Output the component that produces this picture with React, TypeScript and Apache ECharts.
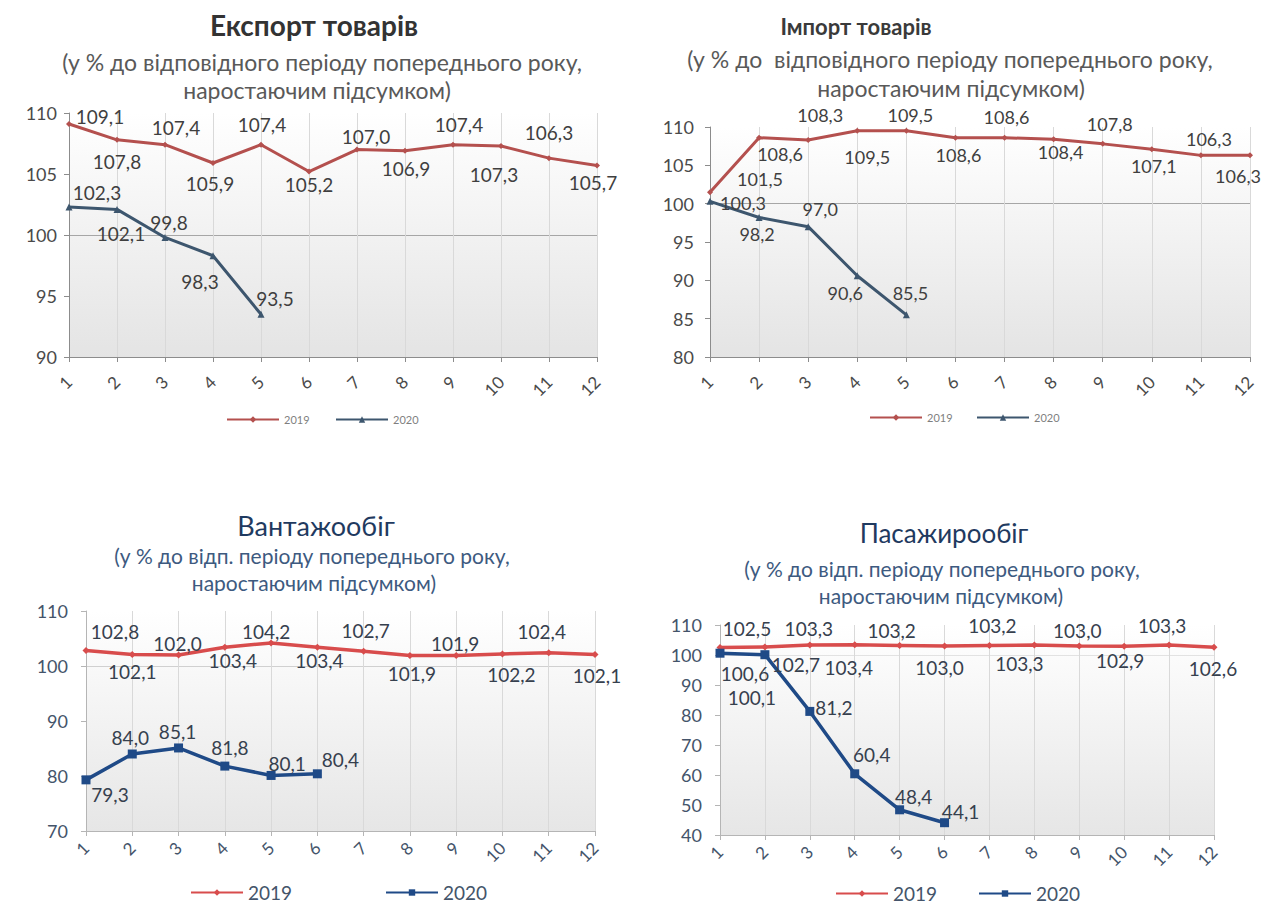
import React, { useEffect, useRef } from "react";
import * as echarts from "echarts";

// Months of the year on the category axis
const months = ["1", "2", "3", "4", "5", "6", "7", "8", "9", "10", "11", "12"];

// Export of goods, % to the same period of the previous year (cumulative)
const export2019 = [109.1, 107.8, 107.4, 105.9, 107.4, 105.2, 107.0, 106.9, 107.4, 107.3, 106.3, 105.7];
const export2020 = [102.3, 102.1, 99.8, 98.3, 93.5];

// Import of goods
const import2019 = [101.5, 108.6, 108.3, 109.5, 109.5, 108.6, 108.6, 108.4, 107.8, 107.1, 106.3, 106.3];
const import2020 = [100.3, 98.2, 97.0, 90.6, 85.5];

// Freight turnover
const freight2019 = [102.8, 102.1, 102.0, 103.4, 104.2, 103.4, 102.7, 101.9, 101.9, 102.2, 102.4, 102.1];
const freight2020 = [79.3, 84.0, 85.1, 81.8, 80.1, 80.4];

// Passenger turnover
const passenger2019 = [102.5, 102.7, 103.3, 103.4, 103.2, 103.0, 103.2, 103.3, 103.0, 102.9, 103.3, 102.6];
const passenger2020 = [100.6, 100.1, 81.2, 60.4, 48.4, 44.1];

// Value-label placement around each point, [dx, dy] in px
const export2019Offsets = [[31, -7], [0, 22], [11, -17], [-3, 20], [1, -20], [0, 13], [9, -13], [1, 18], [6, -20], [-7, 29], [0, -26], [-4, 17]];
const export2020Offsets = [[28, -14], [4, 24], [4, -15], [-13, 26], [14, -16]];
const import2019Offsets = [[50, -13], [21, 16], [12, -25], [10, 26], [4, -16], [3, 17], [2, -21], [7, 13], [7, -20], [2, 17], [8, -16], [-12, 21]];
const import2020Offsets = [[33, 2], [-2, 17], [12, -18], [-12, 17], [4, -22]];
const freight2019Offsets = [[29, -19], [0, 17], [-1, -12], [8, 13], [-5, -11], [2, 13], [2, -21], [2, 18], [-1, -12], [9, 21], [-7, -21], [2, 21]];
const freight2020Offsets = [[24, 15], [-2, -17], [-1, -16], [5, -19], [16, -12], [23, -14]];
const passenger2019Offsets = [[27, -19], [31, 18], [-1, -17], [-6, 23], [-8, -15], [-5, 21], [3, -20], [-15, 18], [-2, -16], [-4, 14], [-7, -20], [-1, 21]];
const passenger2020Offsets = [[25, 20], [-13, 43], [24, -4], [17, -19], [14, -13], [16, -11]];

const FONT = "Lato, 'Open Sans', sans-serif";

const fmt = (v: number) => v.toFixed(1).replace(".", ",");

type SeriesSpec = {
  name: string;
  values: number[];
  offsets: number[][];
  color: string;
  symbol: string;
  symbolSize: number;
  width: number;
};

type PanelSpec = {
  title: string;
  titleFont: string;
  titleColor: string;
  titleX: number;
  titleY: number;
  subtitle: string[];
  subFont: string;
  subColor: string;
  subX: number[];
  subY: number[];
  grid: { left: number; top: number; width: number; height: number };
  yMin: number;
  yMax: number;
  yStep: number;
  axisColor: string;
  axisTextColor: string;
  yLabelSize: number;
  yLabelMargin: number;
  xLabelSize: number;
  xLabelMargin: number;
  refLineColor: string;
  bgBottom: string;
  labelColor: string;
  labelSize: number;
  series: SeriesSpec[];
  legendX: number[];
  legendY: number;
  legendFontSize: number;
  legendTextColor: string;
  legendItemWidth: number;
};

function buildOption(p: PanelSpec): echarts.EChartsCoreOption {
  const ticks: number[] = [];
  for (let t = p.yMin; t <= p.yMax; t += p.yStep) ticks.push(t);
  const splitColors = ticks.map((t) => (t === 100 ? p.refLineColor : "rgba(0,0,0,0)"));

  return {
    animation: false,
    backgroundColor: "transparent",
    textStyle: { fontFamily: FONT },
    graphic: [
      {
        type: "text",
        x: p.titleX,
        y: p.titleY,
        style: {
          text: p.title,
          font: p.titleFont,
          fill: p.titleColor,
          textAlign: "center",
          textVerticalAlign: "middle",
        },
      },
      ...p.subtitle.map((line, i) => ({
        type: "text",
        x: p.subX[i],
        y: p.subY[i],
        style: {
          text: line,
          font: p.subFont,
          fill: p.subColor,
          textAlign: "center",
          textVerticalAlign: "middle",
        },
      })),
    ],
    grid: {
      ...p.grid,
      show: true,
      borderWidth: 0,
      backgroundColor: new echarts.graphic.LinearGradient(0, 0, 0, 1, [
        { offset: 0, color: "#ffffff" },
        { offset: 1, color: p.bgBottom },
      ]),
    },
    legend: p.series.map((s, i) => ({
      data: [s.name],
      left: p.legendX[i],
      top: p.legendY,
      padding: 0,
      itemWidth: p.legendItemWidth,
      itemHeight: 8,
      selectedMode: false,
      textStyle: { fontSize: p.legendFontSize, color: p.legendTextColor, fontFamily: FONT },
    })),
    xAxis: {
      type: "category",
      data: months,
      boundaryGap: false,
      axisLine: { lineStyle: { color: p.axisColor, width: 1 } },
      axisTick: { show: true, length: 5, lineStyle: { color: p.axisColor } },
      splitLine: { show: true, lineStyle: { color: "#d9d9d9", width: 1 } },
      axisLabel: {
        rotate: 45,
        margin: p.xLabelMargin,
        fontSize: p.xLabelSize,
        color: p.axisTextColor,
        fontFamily: FONT,
      },
    },
    yAxis: {
      type: "value",
      min: p.yMin,
      max: p.yMax,
      interval: p.yStep,
      axisLine: { show: true, lineStyle: { color: p.axisColor, width: 1 } },
      axisTick: { show: true, length: 5, lineStyle: { color: p.axisColor } },
      splitLine: { show: true, lineStyle: { color: splitColors, width: 1.2 } },
      axisLabel: {
        fontSize: p.yLabelSize,
        margin: p.yLabelMargin,
        color: p.axisTextColor,
        fontFamily: FONT,
      },
    },
    series: p.series.map((s) => ({
      type: "line",
      name: s.name,
      data: s.values.map((v, i) => ({ value: v, label: { offset: s.offsets[i] } })),
      symbol: s.symbol,
      symbolSize: s.symbolSize,
      showAllSymbol: true,
      lineStyle: { color: s.color, width: s.width },
      itemStyle: { color: s.color, borderWidth: 0 },
      label: {
        show: true,
        position: "inside",
        align: "center",
        verticalAlign: "middle",
        color: p.labelColor,
        fontSize: p.labelSize,
        fontFamily: FONT,
        textBorderWidth: 0,
        formatter: (d: any) => fmt(d.value),
      },
      emphasis: { disabled: true },
    })),
  };
}

const TOP_RED = "#b4504e";
const TOP_BLUE = "#3d566e";
const BOT_RED = "#d84c4c";
const BOT_BLUE = "#1f4a87";

const panels: PanelSpec[] = [
  {
    title: "Експорт товарів",
    titleFont: `bold 28px ${FONT}`,
    titleColor: "#333333",
    titleX: 314,
    titleY: 25,
    subtitle: ["(у % до відповідного періоду попереднього року,", "наростаючим підсумком)"],
    subFont: `23px ${FONT}`,
    subColor: "#595959",
    subX: [322, 317],
    subY: [62, 90],
    grid: { left: 69, top: 113, width: 528, height: 244 },
    yMin: 90,
    yMax: 110,
    yStep: 5,
    axisColor: "#8c8c8c",
    axisTextColor: "#4a4a4a",
    yLabelSize: 18,
    yLabelMargin: 12,
    xLabelSize: 17,
    xLabelMargin: 22,
    refLineColor: "#a6a6a6",
    bgBottom: "#e4e4e4",
    labelColor: "#3f3f3f",
    labelSize: 19,
    series: [
      { name: "2019", values: export2019, offsets: export2019Offsets, color: TOP_RED, symbol: "diamond", symbolSize: 6, width: 3 },
      { name: "2020", values: export2020, offsets: export2020Offsets, color: TOP_BLUE, symbol: "triangle", symbolSize: 7, width: 3 },
    ],
    legendX: [226, 335],
    legendY: 414,
    legendFontSize: 11,
    legendTextColor: "#7f7f7f",
    legendItemWidth: 52,
  },
  {
    title: "Імпорт товарів",
    titleFont: `bold 22px ${FONT}`,
    titleColor: "#3a3a3a",
    titleX: 856,
    titleY: 26,
    subtitle: ["(у % до  відповідного періоду попереднього року,", "наростаючим підсумком)"],
    subFont: `23px ${FONT}`,
    subColor: "#595959",
    subX: [950, 951],
    subY: [59, 88],
    grid: { left: 710, top: 127, width: 540, height: 230 },
    yMin: 80,
    yMax: 110,
    yStep: 5,
    axisColor: "#8c8c8c",
    axisTextColor: "#4a4a4a",
    yLabelSize: 18,
    yLabelMargin: 16,
    xLabelSize: 17,
    xLabelMargin: 22,
    refLineColor: "#a6a6a6",
    bgBottom: "#e4e4e4",
    labelColor: "#3f3f3f",
    labelSize: 18,
    series: [
      { name: "2019", values: import2019, offsets: import2019Offsets, color: TOP_RED, symbol: "diamond", symbolSize: 6, width: 3 },
      { name: "2020", values: import2020, offsets: import2020Offsets, color: TOP_BLUE, symbol: "triangle", symbolSize: 7, width: 3 },
    ],
    legendX: [869, 976],
    legendY: 412,
    legendFontSize: 11,
    legendTextColor: "#7f7f7f",
    legendItemWidth: 52,
  },
  {
    title: "Вантажообіг",
    titleFont: `27px ${FONT}`,
    titleColor: "#1f3a60",
    titleX: 316,
    titleY: 525,
    subtitle: ["(у % до відп. періоду попереднього року,", "наростаючим підсумком)"],
    subFont: `21px ${FONT}`,
    subColor: "#3d5a80",
    subX: [312, 314],
    subY: [555, 582],
    grid: { left: 86, top: 611, width: 509, height: 220 },
    yMin: 70,
    yMax: 110,
    yStep: 10,
    axisColor: "#b5b5b5",
    axisTextColor: "#44546a",
    yLabelSize: 18,
    yLabelMargin: 18,
    xLabelSize: 17,
    xLabelMargin: 14,
    refLineColor: "#d0d0d0",
    bgBottom: "#e6e6e6",
    labelColor: "#36404e",
    labelSize: 19,
    series: [
      { name: "2019", values: freight2019, offsets: freight2019Offsets, color: BOT_RED, symbol: "diamond", symbolSize: 7, width: 3.5 },
      { name: "2020", values: freight2020, offsets: freight2020Offsets, color: BOT_BLUE, symbol: "rect", symbolSize: 9, width: 3.5 },
    ],
    legendX: [190, 385],
    legendY: 883,
    legendFontSize: 19,
    legendTextColor: "#44546a",
    legendItemWidth: 52,
  },
  {
    title: "Пасажирообіг",
    titleFont: `26px ${FONT}`,
    titleColor: "#1f3a60",
    titleX: 944,
    titleY: 533,
    subtitle: ["(у % до відп. періоду попереднього року,", "наростаючим підсумком)"],
    subFont: `21px ${FONT}`,
    subColor: "#3d5a80",
    subX: [942, 941],
    subY: [568, 595],
    grid: { left: 720, top: 625, width: 494, height: 210 },
    yMin: 40,
    yMax: 110,
    yStep: 10,
    axisColor: "#b5b5b5",
    axisTextColor: "#44546a",
    yLabelSize: 18,
    yLabelMargin: 18,
    xLabelSize: 17,
    xLabelMargin: 14,
    refLineColor: "#e2e2e2",
    bgBottom: "#e6e6e6",
    labelColor: "#36404e",
    labelSize: 19,
    series: [
      { name: "2019", values: passenger2019, offsets: passenger2019Offsets, color: BOT_RED, symbol: "diamond", symbolSize: 7, width: 3.5 },
      { name: "2020", values: passenger2020, offsets: passenger2020Offsets, color: BOT_BLUE, symbol: "rect", symbolSize: 9, width: 3.5 },
    ],
    legendX: [835, 978],
    legendY: 884,
    legendFontSize: 19,
    legendTextColor: "#44546a",
    legendItemWidth: 52,
  },
];

function ChartLayer({ spec }: { spec: PanelSpec }) {
  const ref = useRef<HTMLDivElement>(null);
  useEffect(() => {
    if (!ref.current) return;
    const chart = echarts.init(ref.current, undefined, { renderer: "svg" });
    chart.setOption(buildOption(spec));
    return () => chart.dispose();
  }, [spec]);
  return (
    <div
      ref={ref}
      style={{ position: "absolute", left: 0, top: 0, width: 1269, height: 908 }}
    />
  );
}

export default function App() {
  return (
    <div style={{ position: "absolute", left: 0, top: 0, width: 1269, height: 908, background: "#ffffff" }}>
      {panels.map((p) => (
        <ChartLayer key={p.title} spec={p} />
      ))}
    </div>
  );
}
